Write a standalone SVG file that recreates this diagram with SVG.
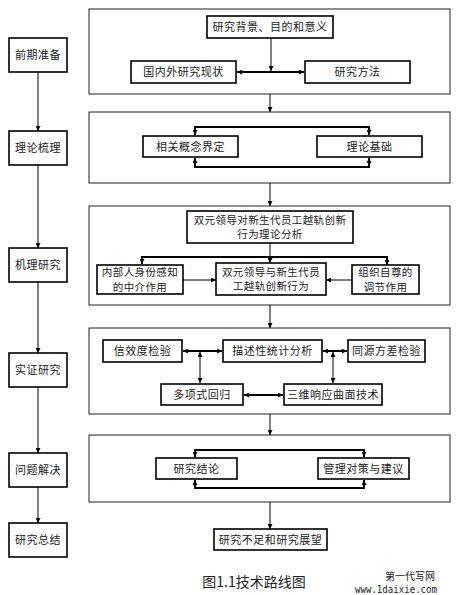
<svg xmlns="http://www.w3.org/2000/svg" width="457" height="595" viewBox="0 0 457 595">
<defs>
<marker id="ah" viewBox="0 0 6 6" refX="6" refY="3" markerWidth="5" markerHeight="5" markerUnits="userSpaceOnUse" orient="auto-start-reverse">
<path d="M0,0 L6,3 L0,6 z" fill="#000"/>
</marker>
</defs>
<style>
.panel{fill:#fff;stroke:#222;stroke-width:1}
.box{fill:#fff;stroke:#000;stroke-width:1.6}
.t{font-family:"Noto Sans CJK SC","Liberation Sans",sans-serif;font-size:11px;fill:#222;text-anchor:middle;letter-spacing:0.5px}
.tl{font-size:10.5px;letter-spacing:0.4px}
.c{fill:none;stroke:#000;stroke-width:1}
.k{fill:none;stroke:#000;stroke-width:2}
.a1{marker-end:url(#ah)}
.a2{marker-start:url(#ah);marker-end:url(#ah)}
</style>
<rect width="457" height="595" fill="#fff"/>

<g id="panels">
<rect class="panel" x="89" y="9" width="361" height="85"/>
<rect class="panel" x="89" y="112" width="361" height="71"/>
<rect class="panel" x="89" y="206" width="361" height="99"/>
<rect class="panel" x="89" y="328" width="361" height="86"/>
<rect class="panel" x="89" y="435" width="361" height="67"/>
</g>

<g id="connectors">
<path class="c a1" d="M38,72 V131"/>
<path class="c a1" d="M38,165 V248"/>
<path class="c a1" d="M38,282 V353"/>
<path class="c a1" d="M38,387 V453"/>
<path class="c a1" d="M38,487 V523"/>

<path class="c a1" d="M271,38 V71"/>
<path class="k a2" d="M237,72 H304"/>
<path class="c a1" d="M270,94 V112"/>

<path class="k a2" d="M195,135 V127 H369 V135"/>
<path class="k a2" d="M195,158 V167 H369 V158"/>
<path class="c a1" d="M270,183 V206"/>

<path class="c a1" d="M270,243 V263"/>
<path class="k a2" d="M142,264 V257 H387 V265"/>
<path class="c a1" d="M183,280 H216"/>
<path class="c a1" d="M352,280 H326"/>
<path class="c a1" d="M270,305 V328"/>

<path class="k a2" d="M183,351 H222"/>
<path class="c a2" d="M200,352 V383"/>
<path class="k a2" d="M323,351 H347"/>
<path class="c a2" d="M333,352 V383"/>
<path class="k a2" d="M244,395 H283"/>
<path class="c a1" d="M270,414 V435"/>

<path class="k a2" d="M195,457 V450 H364 V457"/>
<path class="k a2" d="M195,480 V488 H364 V480"/>
<path class="c a1" d="M270,502 V529"/>
</g>

<g id="stage1"><rect class="box" x="9" y="38" width="58" height="34"/><text class="t" x="38" y="59">前期准备</text></g>
<g id="stage2"><rect class="box" x="9" y="131" width="58" height="34"/><text class="t" x="38" y="152">理论梳理</text></g>
<g id="stage3"><rect class="box" x="9" y="248" width="58" height="34"/><text class="t" x="38" y="269">机理研究</text></g>
<g id="stage4"><rect class="box" x="9" y="353" width="58" height="34"/><text class="t" x="38" y="374">实证研究</text></g>
<g id="stage5"><rect class="box" x="9" y="453" width="58" height="34"/><text class="t" x="38" y="474">问题解决</text></g>
<g id="stage6"><rect class="box" x="9" y="523" width="58" height="34"/><text class="t" x="38" y="544">研究总结</text></g>

<g id="n-bg"><rect class="box" x="207" y="16" width="126" height="22"/><text class="t" x="270" y="31">研究背景、目的和意义</text></g>
<g id="n-status"><rect class="box" x="131" y="61" width="105" height="22"/><text class="t" x="183.5" y="76">国内外研究现状</text></g>
<g id="n-method"><rect class="box" x="305" y="61" width="105" height="22"/><text class="t" x="357.5" y="76">研究方法</text></g>

<g id="n-concept"><rect class="box" x="143" y="136" width="95" height="21"/><text class="t" x="190.5" y="150.5">相关概念界定</text></g>
<g id="n-theory"><rect class="box" x="317" y="136" width="105" height="21"/><text class="t" x="369.5" y="150.5">理论基础</text></g>

<g id="n-analysis"><rect class="box" x="187" y="211" width="166" height="32"/><text class="t tl" x="270" y="223.5">双元领导对新生代员工越轨创新</text><text class="t tl" x="270" y="238">行为理论分析</text></g>
<g id="n-insider"><rect class="box" x="97" y="265" width="86" height="29"/><text class="t tl" x="140" y="276">内部人身份感知</text><text class="t tl" x="140" y="290.5">的中介作用</text></g>
<g id="n-core"><rect class="box" x="216" y="263" width="110" height="32"/><text class="t tl" x="271" y="275.5">双元领导与新生代员</text><text class="t tl" x="271" y="290">工越轨创新行为</text></g>
<g id="n-esteem"><rect class="box" x="352" y="265" width="67" height="29"/><text class="t tl" x="385.5" y="276">组织自尊的</text><text class="t tl" x="385.5" y="290.5">调节作用</text></g>

<g id="n-reliab"><rect class="box" x="103" y="340" width="79" height="22"/><text class="t" x="142.5" y="355">信效度检验</text></g>
<g id="n-desc"><rect class="box" x="223" y="340" width="99" height="22"/><text class="t" x="272.5" y="355">描述性统计分析</text></g>
<g id="n-cmv"><rect class="box" x="348" y="340" width="77" height="22"/><text class="t" x="386.5" y="355">同源方差检验</text></g>
<g id="n-poly"><rect class="box" x="161" y="384" width="82" height="21"/><text class="t" x="202" y="398.5">多项式回归</text></g>
<g id="n-rsm"><rect class="box" x="284" y="384" width="98" height="21"/><text class="t" x="333" y="398.5">三维响应曲面技术</text></g>

<g id="n-concl"><rect class="box" x="156" y="458" width="81" height="21"/><text class="t" x="196.5" y="472.5">研究结论</text></g>
<g id="n-advice"><rect class="box" x="318" y="458" width="91" height="21"/><text class="t" x="363.5" y="472.5">管理对策与建议</text></g>

<g id="n-future"><rect class="box" x="214" y="529" width="113" height="21"/><text class="t" x="270.5" y="543.5">研究不足和研究展望</text></g>

<text x="254" y="587" font-family="'Noto Sans CJK SC','Liberation Sans',sans-serif" font-size="14" fill="#222" text-anchor="middle">图1.1技术路线图</text>
<text x="410" y="580" font-family="'Noto Sans CJK SC','Liberation Sans',sans-serif" font-size="10" fill="#222" text-anchor="middle">第一代写网</text>
<text x="396" y="593" font-family="'DejaVu Sans Mono',monospace" font-size="10" fill="#222" text-anchor="middle" textLength="82" lengthAdjust="spacingAndGlyphs">www.1daixie.com</text>
</svg>
